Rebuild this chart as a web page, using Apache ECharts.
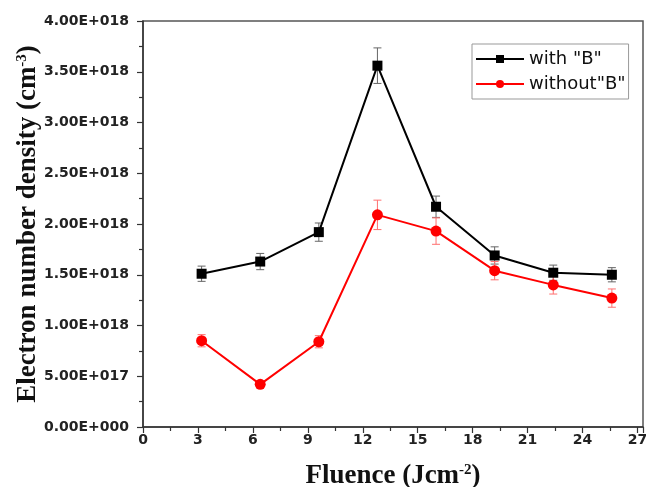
<!DOCTYPE html>
<html>
<head>
<meta charset="utf-8">
<script src="https://cdn.jsdelivr.net/npm/echarts@6/dist/echarts.min.js"></script>
<style>
  html, body { margin: 0; padding: 0; background: #fff; }
  #chart { width: 646px; height: 487px; }
</style>
</head>
<body>
<div id="chart"></div>
<script>
const fluence = [3.2, 6.4, 9.6, 12.8, 16.0, 19.2, 22.4, 25.6];
const withB = [1.51e18, 1.63e18, 1.92e18, 3.56e18, 2.17e18, 1.69e18, 1.52e18, 1.50e18];
const withBErr = [0.075e18, 0.08e18, 0.09e18, 0.175e18, 0.105e18, 0.085e18, 0.075e18, 0.07e18];
const withoutB = [0.85e18, 0.42e18, 0.84e18, 2.09e18, 1.93e18, 1.54e18, 1.40e18, 1.27e18];
const withoutBErr = [0.06e18, 0.03e18, 0.06e18, 0.145e18, 0.13e18, 0.09e18, 0.09e18, 0.09e18];
const yTickLabels = ['0.00E+000', '5.00E+017', '1.00E+018', '1.50E+018', '2.00E+018',
    '2.50E+018', '3.00E+018', '3.50E+018', '4.00E+018'];

const chart = echarts.init(document.getElementById('chart'), null, { renderer: 'canvas' });

const pairs = (ys) => fluence.map((x, i) => [x, ys[i]]);
const errData = (ys, es) => fluence.map((x, i) => [x, ys[i] - es[i], ys[i] + es[i]]);

// vertical error bar with small caps
function errorBar(color) {
    return (params, api) => {
        const lo = api.coord([api.value(0), api.value(1)]);
        const hi = api.coord([api.value(0), api.value(2)]);
        const w = 4;
        const style = { stroke: color, lineWidth: 1 };
        return {
            type: 'group',
            children: [
                { type: 'line', shape: { x1: lo[0], y1: lo[1], x2: hi[0], y2: hi[1] }, style },
                { type: 'line', shape: { x1: lo[0] - w, y1: lo[1], x2: lo[0] + w, y2: lo[1] }, style },
                { type: 'line', shape: { x1: hi[0] - w, y1: hi[1], x2: hi[0] + w, y2: hi[1] }, style },
            ],
        };
    };
}

const tickFont = { fontFamily: 'DejaVu Sans', fontWeight: 'bold', fontSize: 14, color: '#222' };
const titleFont = { fontFamily: 'Liberation Serif', fontWeight: 'bold', fontSize: 27, color: '#111' };
const supStyle = { fontFamily: 'Liberation Serif', fontWeight: 'bold', fontSize: 15, color: '#111', verticalAlign: 'top' };

const option = {
    animation: false,
    grid: {
        left: 143,
        right: 3,
        top: 21,
        bottom: 60,
        outerBoundsMode: 'none',
        show: true,
        borderColor: '#555',
        borderWidth: 1.5,
    },
    legend: {
        orient: 'vertical',
        left: 472,
        top: 44,
        data: ['with "B"', 'without"B"'],
        itemWidth: 48,
        itemHeight: 10,
        itemGap: 7,
        padding: [6, 3, 6, 3],
        borderColor: '#999',
        borderWidth: 1,
        textStyle: { fontFamily: 'DejaVu Sans', fontSize: 18, color: '#111' },
    },
    xAxis: {
        type: 'value',
        min: 0,
        max: 27.3,
        interval: 3,
        name: 'Fluence (Jcm{sup|-2})',
        nameLocation: 'middle',
        nameGap: 36,
        nameMoveOverlap: false,
        nameTextStyle: Object.assign({}, titleFont, { rich: { sup: supStyle } }),
        axisLine: { onZero: false, lineStyle: { color: '#333', width: 1.5 } },
        axisTick: { length: 6, lineStyle: { color: '#333', width: 1.2 } },
        minorTick: { show: true, splitNumber: 2, length: 4, lineStyle: { color: '#333', width: 1.2 } },
        axisLabel: Object.assign({ margin: 6, showMaxLabel: false }, tickFont),
        splitLine: { show: false },
    },
    yAxis: {
        type: 'value',
        min: 0,
        max: 4e18,
        interval: 0.5e18,
        name: 'Electron number density (cm{sup|-3})',
        nameLocation: 'middle',
        nameGap: 101,
        nameMoveOverlap: false,
        nameTextStyle: Object.assign({}, titleFont, { rich: { sup: supStyle } }),
        axisLine: { show: true, lineStyle: { color: '#333', width: 1.5 } },
        axisTick: { length: 6, lineStyle: { color: '#333', width: 1.2 } },
        minorTick: { show: true, splitNumber: 2, length: 4, lineStyle: { color: '#333', width: 1.2 } },
        axisLabel: Object.assign({ margin: 14, formatter: (v, i) => yTickLabels[i] }, tickFont),
        splitLine: { show: false },
    },
    series: [
        {
            name: 'with "B" err',
            type: 'custom',
            renderItem: errorBar('#666'),
            data: errData(withB, withBErr),
            encode: { x: 0, y: [1, 2] },
            z: 1,
        },
        {
            name: 'without"B" err',
            type: 'custom',
            renderItem: errorBar('#ff7070'),
            data: errData(withoutB, withoutBErr),
            encode: { x: 0, y: [1, 2] },
            z: 1,
        },
        {
            name: 'with "B"',
            type: 'line',
            data: pairs(withB),
            symbol: 'rect',
            symbolSize: 10,
            lineStyle: { color: '#000', width: 2 },
            itemStyle: { color: '#000' },
            z: 3,
        },
        {
            name: 'without"B"',
            type: 'line',
            data: pairs(withoutB),
            symbol: 'circle',
            symbolSize: 11,
            lineStyle: { color: '#ff0000', width: 2 },
            itemStyle: { color: '#ff0000' },
            z: 3,
        },
    ],
};

chart.setOption(option);
</script>
</body>
</html>
